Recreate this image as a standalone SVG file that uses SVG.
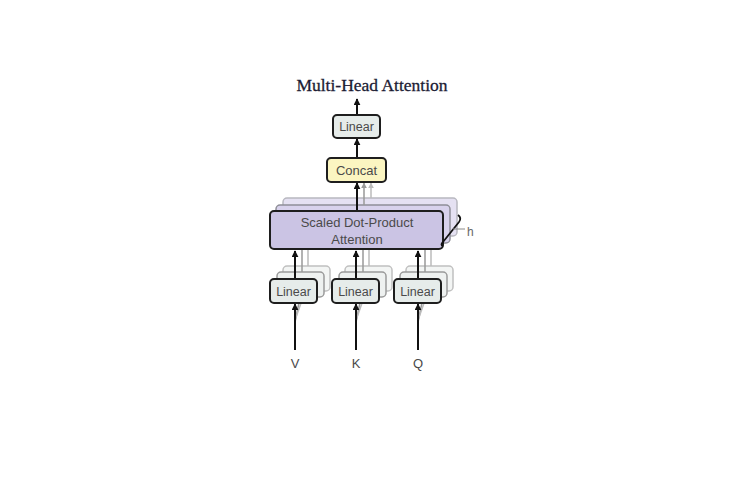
<svg xmlns="http://www.w3.org/2000/svg" width="740" height="486" viewBox="0 0 740 486">
<defs>
<marker id="ah" viewBox="0 0 10 10" refX="9" refY="5" markerWidth="7" markerHeight="7" markerUnits="userSpaceOnUse" orient="auto">
<path d="M0,0 L10,5 L0,10 z" fill="#111"/>
</marker>
<marker id="ahg" viewBox="0 0 10 10" refX="9" refY="5" markerWidth="6" markerHeight="6" markerUnits="userSpaceOnUse" orient="auto">
<path d="M0,0 L10,5 L0,10 z" fill="#999"/>
</marker>
<marker id="ahg2" viewBox="0 0 10 10" refX="9" refY="5" markerWidth="6" markerHeight="6" markerUnits="userSpaceOnUse" orient="auto">
<path d="M0,0 L10,5 L0,10 z" fill="#bbb"/>
</marker>
</defs>
<style>
.box{stroke:#1e1e1e;stroke-width:2;}
.lin{fill:#e6ecea;}
.back1{fill:#eef1f0;stroke:#9a9a9a;stroke-width:1.5;}
.back2{fill:#f3f5f4;stroke:#c0c0c0;stroke-width:1.5;}
.att{fill:#cbc4e4;}
.attb1{fill:#d8d2ec;stroke:#8f8f98;stroke-width:1.5;}
.attb2{fill:#e5e1f2;stroke:#b8b8c0;stroke-width:1.5;}
.t{font-family:"Liberation Sans",Arial,sans-serif;fill:#4a4a4a;text-anchor:middle;}
.conn{stroke:#111;stroke-width:2;fill:none;}
.g1{stroke:#999;stroke-width:1.5;fill:none;}
.g2{stroke:#bbb;stroke-width:1.5;fill:none;}
</style>
<rect width="740" height="486" fill="#fff"/>

<g id="title">
<text x="372" y="91" font-family="Liberation Serif,'Times New Roman',serif" font-size="17.5" fill="#1c1c34" stroke="#1c1c34" stroke-width="0.3" text-anchor="middle">Multi-Head Attention</text>
</g>

<g id="attention_stack">
<rect class="attb2" x="283" y="198" width="174" height="38" rx="4"/>
<rect class="attb1" x="276" y="205" width="174" height="38" rx="4"/>
</g>
<g id="linear_stacks">
<rect class="back2" x="283" y="266" width="47" height="25" rx="4"/>
<rect class="back1" x="277" y="272" width="47" height="25" rx="4"/>
<rect class="back2" x="345" y="266" width="47" height="25" rx="4"/>
<rect class="back1" x="339" y="272" width="47" height="25" rx="4"/>
<rect class="back2" x="406" y="266" width="47" height="25" rx="4"/>
<rect class="back1" x="400" y="272" width="47" height="25" rx="4"/>
</g>

<g id="connectors">
<line class="conn" x1="357" y1="115" x2="357" y2="99" marker-end="url(#ah)"/>
<line class="conn" x1="357" y1="158" x2="357" y2="139" marker-end="url(#ah)"/>
<line class="conn" x1="357" y1="211" x2="357" y2="183" marker-end="url(#ah)"/>
<line class="g1" x1="364" y1="205" x2="364" y2="183" marker-end="url(#ahg)"/>
<line class="g2" x1="371" y1="198" x2="371" y2="183" marker-end="url(#ahg2)"/>
<line class="conn" x1="295" y1="278" x2="295" y2="251" marker-end="url(#ah)"/>
<line class="g1" x1="302" y1="272" x2="302" y2="250"/>
<line class="g2" x1="308" y1="266" x2="308" y2="250"/>
<line class="conn" x1="356" y1="278" x2="356" y2="251" marker-end="url(#ah)"/>
<line class="g1" x1="363" y1="272" x2="363" y2="250"/>
<line class="g2" x1="369" y1="266" x2="369" y2="250"/>
<line class="conn" x1="418" y1="278" x2="418" y2="251" marker-end="url(#ah)"/>
<line class="g1" x1="425" y1="272" x2="425" y2="250"/>
<line class="g2" x1="431" y1="266" x2="431" y2="250"/>
<path class="g1" d="M295,322 L300,298"/>
<path class="g2" d="M295,320 L305,292"/>
<path class="g1" d="M356,322 L361,298"/>
<path class="g2" d="M356,320 L366,292"/>
<path class="g1" d="M418,322 L423,298"/>
<path class="g2" d="M418,320 L428,292"/>
<line class="conn" x1="295" y1="350" x2="295" y2="304" marker-end="url(#ah)"/>
<line class="conn" x1="356" y1="350" x2="356" y2="304" marker-end="url(#ah)"/>
<line class="conn" x1="418" y1="350" x2="418" y2="304" marker-end="url(#ah)"/>
</g>

<g id="linear_out">
<rect class="box lin" x="333" y="115" width="47" height="23" rx="4"/>
<text class="t" x="356.5" y="131" font-size="12.5">Linear</text>
</g>
<g id="concat">
<rect class="box" x="327" y="158" width="59" height="24" rx="4" fill="#fbf5c1"/>
<text class="t" x="356.5" y="174.5" font-size="13">Concat</text>
</g>
<g id="attention">
<rect class="box att" x="270" y="211" width="173" height="38" rx="4"/>
<text class="t" x="357" y="227" font-size="13">Scaled Dot-Product</text>
<text class="t" x="357" y="243.5" font-size="13">Attention</text>
</g>
<g id="h_label">
<path d="M458,215 Q462,218 459,222 L443,242 Q440,245 443,246" fill="none" stroke="#111" stroke-width="1.8"/>
<line x1="453" y1="229" x2="465" y2="229" stroke="#888" stroke-width="1"/>
<text x="467" y="236" font-family="Liberation Sans,Arial,sans-serif" font-size="12" fill="#666">h</text>
</g>
<g id="linear_v">
<rect class="box lin" x="270" y="279" width="47" height="24" rx="4"/>
<text class="t" x="293.5" y="295.5" font-size="12.5">Linear</text>
</g>
<g id="linear_k">
<rect class="box lin" x="332" y="279" width="47" height="24" rx="4"/>
<text class="t" x="355.5" y="295.5" font-size="12.5">Linear</text>
</g>
<g id="linear_q">
<rect class="box lin" x="394" y="279" width="47" height="24" rx="4"/>
<text class="t" x="417.5" y="295.5" font-size="12.5">Linear</text>
</g>
<g id="inputs">
<text class="t" x="295" y="368" font-size="13" fill="#555">V</text>
<text class="t" x="356" y="368" font-size="13" fill="#555">K</text>
<text class="t" x="418" y="368" font-size="13" fill="#555">Q</text>
</g>
</svg>
